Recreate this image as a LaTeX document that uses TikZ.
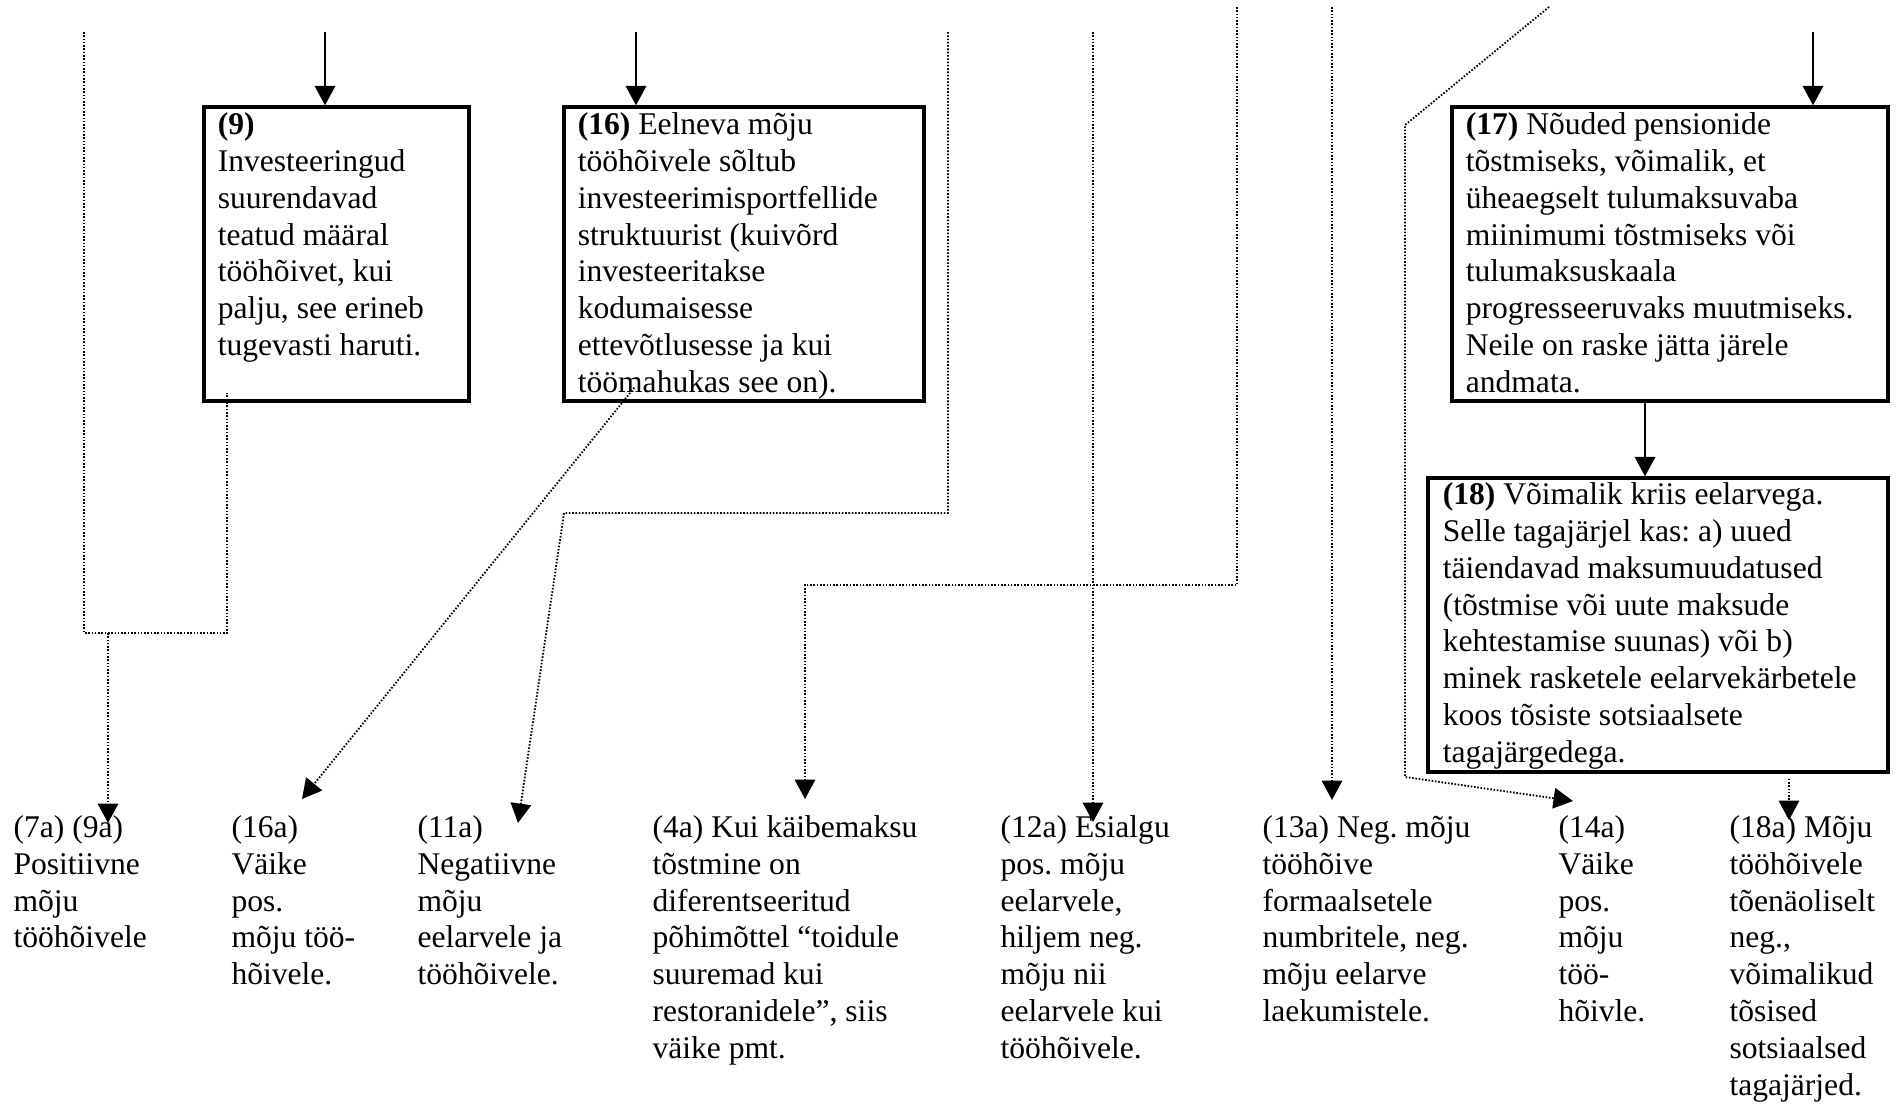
\documentclass[tikz,border=0pt]{standalone}
\usepackage{fontspec}
\setmainfont{Liberation Serif}
\usetikzlibrary{arrows.meta,fit,calc}
\frenchspacing
\begin{document}
\begin{tikzpicture}[x=0.38pt,y=-0.38pt,
  boxst/.style={draw, line width=1.3pt, inner sep=0pt},
  txt/.style={font=\fontsize{12pt}{14pt}\selectfont\frenchspacing, align=left, inner sep=0pt, anchor=north west},
  solidarr/.style={line width=0.75pt, -{Triangle[length=7.4pt,width=7.8pt]}},
  dotl/.style={line width=0.7pt, dash pattern=on 0.6pt off 0.65pt},
  dotarr/.style={dotl, -{Triangle[length=7.4pt,width=7.8pt]}}
]
\useasboundingbox (0,0) rectangle (1896,1105);

% boxes
\node[boxst, fit={(204,107) (469,401)}] (b9) {};
\node[boxst, fit={(564,107) (924,401)}] (b16) {};
\node[boxst, fit={(1452,107) (1888,401)}] (b17) {};
\node[boxst, fit={(1428,478) (1888,772)}] (b18) {};

% box texts
\node[txt] (t9) at ($(b9.north west)+(15,3)$) {\strut\textbf{(9)}\\Investeeringud\\suurendavad\\teatud määral\\tööhõivet, kui\\palju, see erineb\\tugevasti haruti.};
\node[txt] (t16) at ($(b16.north west)+(15,3)$) {\strut\textbf{(16)} Eelneva mõju\\tööhõivele sõltub\\investeerimisportfellide\\struktuurist (kuivõrd\\investeeritakse\\kodumaisesse\\ettevõtlusesse ja kui\\töömahukas see on).};
\node[txt] (t17) at ($(b17.north west)+(15,3)$) {\strut\textbf{(17)} Nõuded pensionide\\tõstmiseks, võimalik, et\\üheaegselt tulumaksuvaba\\miinimumi tõstmiseks või\\tulumaksuskaala\\progresseeruvaks muutmiseks.\\Neile on raske jätta järele\\andmata.};
\node[txt] (t18) at ($(b18.north west)+(16,2)$) {\strut\textbf{(18)} Võimalik kriis eelarvega.\\Selle tagajärjel kas: a) uued\\täiendavad maksumuudatused\\(tõstmise või uute maksude\\kehtestamise suunas) või b)\\minek rasketele eelarvekärbetele\\koos tõsiste sotsiaalsete\\tagajärgedega.};

% bottom labels
\node[txt] (l7) at (13,811) {\strut(7a) (9a)\\Positiivne\\mõju\\tööhõivele};
\node[txt] (l16) at (231,811) {\strut(16a)\\Väike\\pos.\\mõju töö-\\hõivele.};
\node[txt] (l11) at (417,811) {\strut(11a)\\Negatiivne\\mõju\\eelarvele ja\\tööhõivele.};
\node[txt] (l4) at (652,811) {\strut(4a) Kui käibemaksu\\tõstmine on\\diferentseeritud\\põhimõttel “toidule\\suuremad kui\\restoranidele”, siis\\väike pmt.};
\node[txt] (l12) at (1000,811) {\strut(12a) Esialgu\\pos. mõju\\eelarvele,\\hiljem neg.\\mõju nii\\eelarvele kui\\tööhõivele.};
\node[txt] (l13) at (1262,811) {\strut(13a) Neg. mõju\\tööhõive\\formaalsetele\\numbritele, neg.\\mõju eelarve\\laekumistele.};
\node[txt] (l14) at (1558,811) {\strut(14a)\\Väike\\pos.\\mõju\\töö-\\hõivle.};
\node[txt] (l18) at (1729,811) {\strut(18a) Mõju\\tööhõivele\\tõenäoliselt\\neg.,\\võimalikud\\tõsised\\sotsiaalsed\\tagajärjed.};

% free ends and arrow tips
\coordinate (s9) at (325,32);
\coordinate (s16) at (636,32);
\coordinate (s17) at (1813,32);
\coordinate (x1645) at (1645,0);
\coordinate (s84) at (84,32);
\coordinate (j7) at (108,633);
\coordinate (a7) at (108,823);
\coordinate (a16) at (302,799);
\coordinate (s948) at (948,32);
\coordinate (a11) at (518,823);
\coordinate (s1093) at (1093,32);
\coordinate (a12) at (1093,822);
\coordinate (s1237) at (1237,7);
\coordinate (a4) at (805,799);
\coordinate (s1332) at (1332,7);
\coordinate (a13) at (1332,800);
\coordinate (s1549) at (1549,7);
\coordinate (a14) at (1573,801);
\coordinate (x1789) at (1789,0);
\coordinate (a18) at (1789,820);

% solid arrows
\draw[solidarr] (s9) -- (s9 |- b9.north);
\draw[solidarr] (s16) -- (s16 |- b16.north);
\draw[solidarr] (s17) -- (s17 |- b17.north);
\draw[solidarr] (b17.south -| x1645) -- (b18.north -| x1645);

% dotted connectors
\draw[dotl] (s84) -- (84,633) -| ($(b9.south west)+(25,-10)$);
\draw[dotarr] (j7) -- (a7);
\draw[dotarr] ($(b16.south west)+(72,-15)$) -- (a16);
\draw[dotarr] (s948) |- (564,513) -- (a11);
\draw[dotarr] (s1093) -- (a12);
\draw[dotarr] (s1237) -- (1237,585) -| (a4);
\draw[dotarr] (s1332) -- (a13);
\draw[dotarr] (s1549) -- (1405,125) -- (1405,777) -- (a14);
\draw[dotarr] ($(b18.south -| x1789)+(0,5)$) -- (a18);
\end{tikzpicture}
\end{document}
